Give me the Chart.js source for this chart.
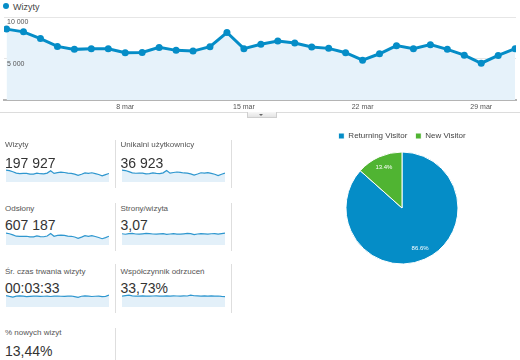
<!DOCTYPE html>
<html>
<head>
<meta charset="utf-8">
<script src="https://cdn.jsdelivr.net/npm/chart.js@4.4.0/dist/chart.umd.min.js"></script>
<style>
  body { margin: 0; width: 520px; height: 360px; background: #fff; position: relative; overflow: hidden;
         font-family: Arial, "Liberation Sans", sans-serif; }
  .abs { position: absolute; }
  .lbl { position: absolute; font-size: 8px; line-height: 10px; color: #555; white-space: nowrap; }
  .val { position: absolute; font-size: 14px; line-height: 14px; color: #333; white-space: nowrap; }
  .vline { position: absolute; width: 1px; background: #dedede; }
  .spark { position: absolute; width: 103px; height: 13px; }
</style>
</head>
<body>

<!-- legenda wykresu głównego -->
<div class="abs" style="left:3px;top:3px;width:6px;height:6px;border-radius:50%;background:#058dc7;"></div>
<div class="abs" style="left:13px;top:2px;font-size:9px;line-height:11px;color:#444;">Wizyty</div>

<div class="abs" style="left:0;top:0;width:520px;height:114px;"><canvas id="mainChart"></canvas></div>

<div class="abs" style="left:0;top:112px;width:520px;height:1px;background:#dcdcdc;"></div>
<div class="abs" style="left:247px;top:112px;width:28px;height:5px;border:1px solid #cfcfcf;border-top:none;background:linear-gradient(#f7f7f7,#e4e4e4);"></div>
<div class="abs" style="left:259px;top:114px;width:0;height:0;border-left:2px solid transparent;border-right:2px solid transparent;border-top:2px solid #666;"></div>

<div id="metrics"></div>

<div class="vline" style="left:115px;top:140px;height:48px;"></div>
<div class="vline" style="left:231px;top:140px;height:48px;"></div>
<div class="vline" style="left:115px;top:203px;height:48px;"></div>
<div class="vline" style="left:231px;top:203px;height:48px;"></div>
<div class="vline" style="left:115px;top:264px;height:49px;"></div>
<div class="vline" style="left:231px;top:264px;height:49px;"></div>
<div class="vline" style="left:115px;top:328px;height:32px;"></div>

<div class="spark" style="left:6px;top:169px;"><canvas id="sp0"></canvas></div>
<div class="spark" style="left:122px;top:169px;"><canvas id="sp1"></canvas></div>
<div class="spark" style="left:6px;top:232px;"><canvas id="sp2"></canvas></div>
<div class="spark" style="left:122px;top:232px;"><canvas id="sp3"></canvas></div>
<div class="spark" style="left:6px;top:294px;"><canvas id="sp4"></canvas></div>
<div class="spark" style="left:122px;top:294px;"><canvas id="sp5"></canvas></div>

<div class="abs" style="left:326px;top:124px;width:152px;height:142px;"><canvas id="pieChart"></canvas></div>

<script>
// dni marca
const days = [1, 2, 3, 4, 5, 6, 7, 8, 9, 10, 11, 12, 13, 14, 15, 16, 17, 18, 19, 20, 21, 22, 23, 24, 25, 26, 27, 28, 29, 30, 31];
const tickDays = [8, 15, 22, 29];

// wizyty dziennie
const visits = [8540, 8210, 7400, 6460, 6100, 6180, 6180, 5700, 5730, 6340, 5980, 5890, 6430, 8130, 6180, 6710,
                7110, 6870, 6380, 6220, 5700, 4790, 5570, 6550, 6180, 6670, 6100, 5400, 4430, 5370, 6180];
const uniques = [1610, 1560, 1420, 1250, 1190, 1200, 1200, 1120, 1130, 1230, 1170, 1150, 1250, 1560, 1200, 1290,
                 1360, 1320, 1230, 1200, 1110, 950, 1090, 1260, 1200, 1280, 1180, 1050, 870, 1050, 1200];
const pageviews = [25900, 24600, 22100, 19300, 18700, 19000, 19200, 17700, 17900, 19800, 18400, 18100, 19700, 25000, 19100, 20900,
                   21800, 21000, 19500, 19100, 17600, 14700, 17300, 20400, 19000, 20600, 18700, 16500, 13800, 16300, 19300];
const pagesPerVisit = [3.12, 2.98, 3.18, 3.22, 3.06, 3.02, 3.10, 3.20, 3.14, 3.05, 3.00, 3.08, 3.18, 2.95, 3.06, 3.15,
                       3.04, 3.00, 3.10, 3.22, 3.16, 2.88, 3.05, 3.15, 3.08, 3.02, 3.12, 3.18, 3.02, 3.16, 3.28];
const avgDuration = [222, 208, 196, 214, 219, 212, 205, 210, 212, 214, 209, 211, 215, 206, 212, 214,
                     211, 209, 213, 216, 205, 190, 211, 219, 212, 206, 211, 214, 204, 210, 232];
const bounceRate = [33.0, 34.4, 35.9, 34.1, 33.3, 33.2, 33.6, 33.4, 33.1, 33.5, 33.6, 33.3, 33.0, 33.8, 33.4, 33.8,
                    33.5, 33.1, 33.6, 33.5, 36.0, 34.2, 33.6, 33.1, 33.9, 33.4, 33.7, 33.1, 33.5, 32.4, 31.6];

// podsumowanie
const metricLabels = ['Wizyty', 'Unikalni użytkownicy', 'Odsłony', 'Strony/wizyta', 'Śr. czas trwania wizyty', 'Współczynnik odrzuceń', '% nowych wizyt'];
const metricValues = ['197 927', '36 923', '607 187', '3,07', '00:03:33', '33,73%', '13,44%'];

// typy użytkowników
const visitorTypes = ['Returning Visitor', 'New Visitor'];
const visitorShare = [86.6, 13.4];

const blue = '#058dc7';
const green = '#50b432';

// etykiety i wartości
const colX = [5, 120.5];
const lblTop = [139.7, 203.7, 266.7, 328.2];
const valTop = [156.1, 218.1, 281.4, 344.1];
const box = document.getElementById('metrics');
metricLabels.forEach((txt, i) => {
  const row = Math.floor(i / 2), col = i % 2;
  const l = document.createElement('div');
  l.className = 'lbl';
  l.style.left = colX[col] + 'px';
  l.style.top = lblTop[row] + 'px';
  l.textContent = txt;
  box.appendChild(l);
  const v = document.createElement('div');
  v.className = 'val';
  v.style.left = colX[col] + 'px';
  v.style.top = valTop[row] + 'px';
  v.textContent = metricValues[i];
  box.appendChild(v);
});

function thousands(v) {
  return String(v).replace(/\B(?=(\d{3})+(?!\d))/g, ' ');
}

const tickFont = { size: 7, family: 'Arial, "Liberation Sans"' };

// wykres główny
new Chart(document.getElementById('mainChart'), {
  type: 'line',
  data: {
    datasets: [{
      label: 'Wizyty',
      data: days.map((d, i) => ({ x: d, y: visits[i] })),
      borderColor: blue,
      borderWidth: 3,
      pointRadius: 3.5,
      pointBackgroundColor: blue,
      pointBorderWidth: 0,
      backgroundColor: '#e6f2fa',
      fill: 'origin',
      tension: 0
    }]
  },
  options: {
    responsive: true,
    maintainAspectRatio: false,
    animation: false,
    layout: { padding: { top: 17, left: 0, right: 0, bottom: 1 } },
    plugins: { legend: { display: false }, tooltip: { enabled: false } },
    scales: {
      x: {
        type: 'linear',
        min: 0.85,
        max: 31.05,
        grid: { display: false, drawTicks: false },
        border: { display: true, color: '#b4b4b4', width: 2 },
        afterBuildTicks: axis => { axis.ticks = tickDays.map(v => ({ value: v })); },
        afterFit: axis => { axis.height = 13; },
        ticks: {
          color: '#555',
          font: tickFont,
          padding: 3,
          autoSkip: false,
          maxRotation: 0,
          callback: v => v + ' mar'
        }
      },
      y: {
        min: 0,
        max: 10000,
        border: { display: false },
        grid: { color: '#e6e6e6', drawTicks: false },
        afterFit: axis => { axis.width = 0; },
        ticks: {
          z: 1,
          stepSize: 5000,
          mirror: true,
          padding: 3,
          labelOffset: 5.5,
          color: '#555',
          font: tickFont,
          callback: v => v === 0 ? '' : thousands(v)
        }
      }
    }
  }
});

// sparklines
function makeSpark(id, values) {
  new Chart(document.getElementById(id), {
    type: 'line',
    data: {
      labels: days,
      datasets: [{
        data: values,
        borderColor: '#2f97cf',
        borderWidth: 1.2,
        pointRadius: 0,
        backgroundColor: '#e3f0f9',
        fill: 'origin',
        tension: 0
      }]
    },
    options: {
      responsive: true,
      maintainAspectRatio: false,
      animation: false,
      plugins: { legend: { display: false }, tooltip: { enabled: false } },
      scales: {
        x: { display: false },
        y: { display: false, min: 0, max: Math.max(...values) * 1.1 }
      }
    }
  });
}
[visits, uniques, pageviews, pagesPerVisit, avgDuration, bounceRate].forEach((s, i) => makeSpark('sp' + i, s));

// etykiety procentowe na wycinkach
const sliceLabels = {
  id: 'sliceLabels',
  afterDatasetsDraw(chart) {
    const ctx = chart.ctx;
    const meta = chart.getDatasetMeta(0);
    ctx.save();
    ctx.fillStyle = '#fff';
    ctx.font = '6px Arial, "Liberation Sans"';
    ctx.textAlign = 'center';
    ctx.textBaseline = 'middle';
    meta.data.forEach((arc, i) => {
      const p = arc.getProps(['x', 'y', 'startAngle', 'endAngle', 'outerRadius'], true);
      const mid = (p.startAngle + p.endAngle) / 2;
      const r = p.outerRadius * 0.79;
      ctx.fillText(visitorShare[i].toFixed(1) + '%', p.x + Math.cos(mid) * r, p.y + Math.sin(mid) * r);
    });
    ctx.restore();
  }
};

new Chart(document.getElementById('pieChart'), {
  type: 'pie',
  data: {
    labels: visitorTypes,
    datasets: [{
      data: visitorShare,
      backgroundColor: [blue, green],
      borderColor: '#fff',
      borderWidth: 1
    }]
  },
  options: {
    responsive: true,
    maintainAspectRatio: false,
    animation: false,
    radius: 56,
    plugins: {
      tooltip: { enabled: false },
      legend: {
        position: 'top',
        labels: {
          boxWidth: 6,
          boxHeight: 6,
          padding: 8,
          color: '#444',
          font: { size: 8, family: 'Arial, "Liberation Sans"' }
        }
      }
    }
  },
  plugins: [sliceLabels]
});
</script>
</body>
</html>
